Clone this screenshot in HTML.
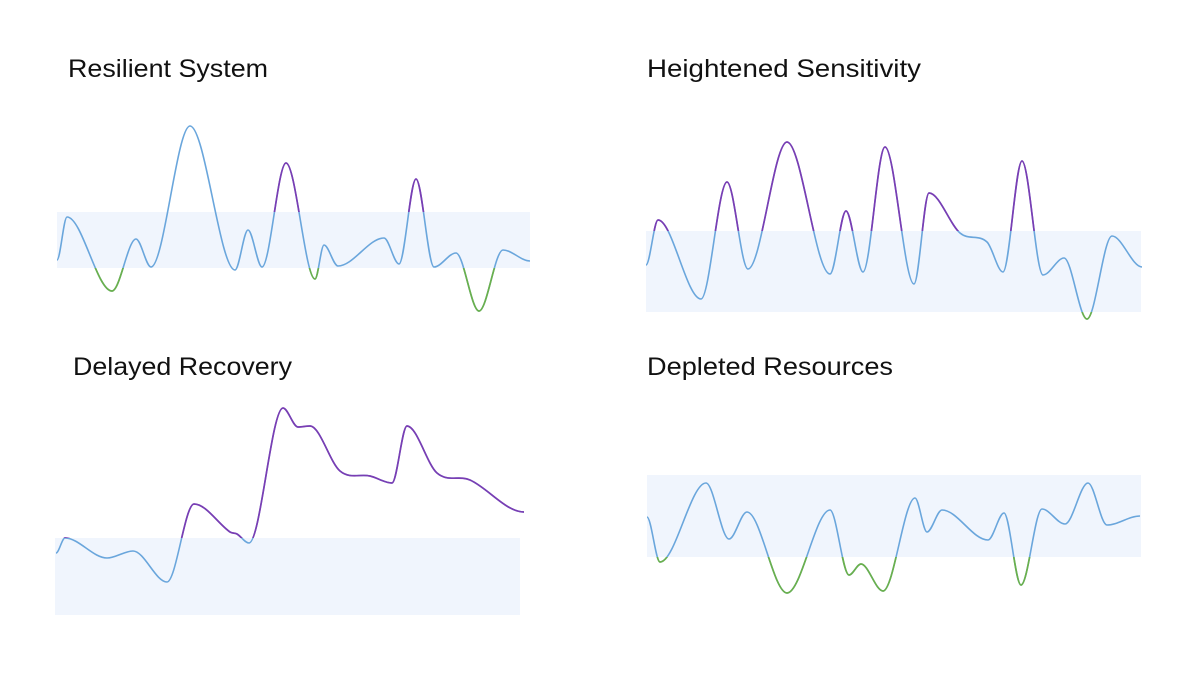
<!DOCTYPE html>
<html><head><meta charset="utf-8"><style>
html,body{margin:0;padding:0;background:#fff;}
svg{display:block;}
text{font-family:"Liberation Sans",sans-serif;font-size:25px;fill:#111;}
</style></head><body>
<svg id="s" width="1200" height="675" xmlns="http://www.w3.org/2000/svg">
<text x="68" y="77" textLength="200" lengthAdjust="spacingAndGlyphs">Resilient System</text>
<text x="647" y="77" textLength="274" lengthAdjust="spacingAndGlyphs">Heightened Sensitivity</text>
<text x="73" y="375" textLength="219" lengthAdjust="spacingAndGlyphs">Delayed Recovery</text>
<text x="647" y="375" textLength="246" lengthAdjust="spacingAndGlyphs">Depleted Resources</text>
</svg>
<script>
var panels=[
{b:[57,212,530,268],px:[[265,305],[405,428]],gx:[[85,135],[300,330],[455,505]],p:[[57,260],[67,217],[112,291],[136,239],[151,267],[190,126],[235,270],[248,230],[262,267],[286,163],[315,279],[324,245],[338,266],[384,238],[399,264],[416,179],[434,267],[456,253],[479,311],[503,250],[530,261]]},
{b:[646,231,1141,312],p:[[646,265],[658,220],[701,299],[727,182],[748,269],[787,142],[830,274],[846,211],[863,272],[885,147],[914,284],[929,193],[960,233],[987,242],[1003,272],[1022,161],[1043,275],[1064,258],[1087,319],[1112,236],[1142,267]]},
{b:[55,538,520,615],p:[[56,553],[65,538],[107,558],[133,551],[167,582],[194,504],[230,532],[237,534],[249,543],[283,408],[298,427],[310,426],[340,471],[370,476],[392,483],[407,426],[437,473],[470,480],[524,512]]},
{b:[647,475,1141,557],p:[[647,517],[660,562],[706,483],[729,539],[747,512],[787,593],[830,510],[849,575],[861,564],[883,591],[915,498],[927,532],[942,510],[988,540],[1004,513],[1021,585],[1042,509],[1065,524],[1088,483],[1107,525],[1140,516]]}
];
var s=document.getElementById('s'),NS='http://www.w3.org/2000/svg';
function el(t,a,par){var e=document.createElementNS(NS,t);for(var k in a)e.setAttribute(k,a[k]);(par||s).appendChild(e);return e;}
var defs=el('defs',{});
panels.forEach(function(P,i){
 var b=P.b,p=P.p,n=p.length;
 el('rect',{x:b[0],y:b[1],width:b[2]-b[0],height:b[3]-b[1],fill:'#f0f5fd'});
 var m=[];
 for(var j=0;j<n;j++){
  if(j==0||j==n-1){m.push(0);continue;}
  var a=p[j-1],c=p[j+1],d1=p[j][1]-a[1],d2=c[1]-p[j][1];
  if(d1*d2<=0)m.push(0);else m.push((c[1]-a[1])/(c[0]-a[0]));
 }
 var d='M'+p[0][0]+','+p[0][1];
 for(var j=1;j<n;j++){var a=p[j-1],c=p[j],dx=(c[0]-a[0])/3;
  d+=' C'+(a[0]+dx)+','+(a[1]+m[j-1]*dx)+' '+(c[0]-dx)+','+(c[1]-m[j]*dx)+' '+c[0]+','+c[1];}
 var px=P.px||[[0,1200]],gx=P.gx||[[0,1200]];
 el('path',{d:d,fill:'none',stroke:'#6aa6dc','stroke-width':1.6});
 [['a',0,b[1],'#7a3db3',px],['l',b[3],675-b[3],'#6ab04c',gx]].forEach(function(r){
  var cp=el('clipPath',{id:'c'+i+r[0]},defs);
  r[4].forEach(function(x){el('rect',{x:x[0],y:r[1],width:x[1]-x[0],height:r[2]},cp);});
  el('path',{d:d,fill:'none',stroke:r[3],'stroke-width':1.7,'clip-path':'url(#c'+i+r[0]+')'});
 });
});
</script>
</body></html>
